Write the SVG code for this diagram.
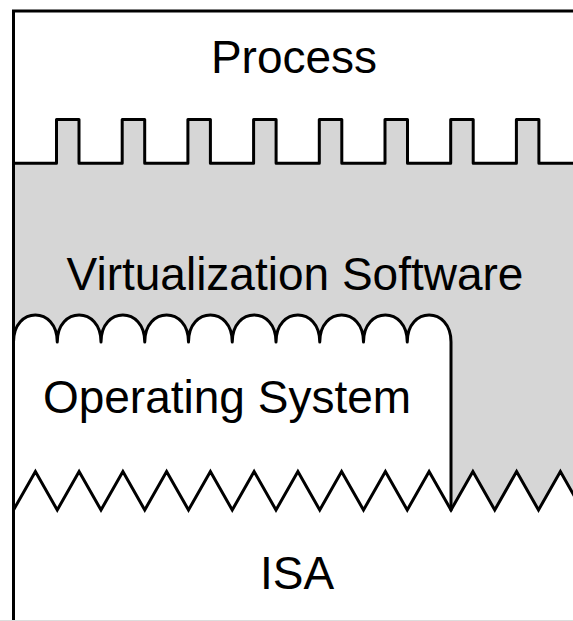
<svg xmlns="http://www.w3.org/2000/svg" width="573" height="621" viewBox="0 0 573 621">
  <style>
    .lbl { font-family: "Liberation Sans", Arial, Helvetica, sans-serif; font-size: 46px; fill: #000; text-anchor: middle; }
    .edge { fill: none; stroke: #000; stroke-width: 3; }
    .gray { fill: #d6d6d6; }
    .white { fill: #fff; }
  </style>
  <rect x="0" y="0" width="573" height="621" fill="#fff"/>

  <g id="virtualization-software">
    <path class="gray" d="M13.5,163.3 H56.5 V119.5 H79 V163.3 H122.2 V119.5 H144.7 V163.3 H187.9 V119.5 H210.4 V163.3 H253.6 V119.5 H276.1 V163.3 H319.3 V119.5 H341.8 V163.3 H385 V119.5 H407.5 V163.3 H450.7 V119.5 H473.2 V163.3 H516.4 V119.5 H538.9 V163.3 H580 V540 H13.5 Z"/>
    <text class="lbl" x="295" y="290">Virtualization Software</text>
  </g>

  <g id="isa">
    <path class="white" d="M13.5,510 L35.4,471.5 L57.25,510 L79.1,471.5 L101,510 L122.9,471.5 L144.75,510 L166.6,471.5 L188.5,510 L210.4,471.5 L232.25,510 L254.1,471.5 L276,510 L297.9,471.5 L319.75,510 L341.6,471.5 L363.5,510 L385.4,471.5 L407.25,510 L429.1,471.5 L451,510 L472.9,471.5 L494.75,510 L516.6,471.5 L538.5,510 L560.4,471.5 L582.25,510 V625 H13.5 Z"/>
    <text class="lbl" x="297" y="589">ISA</text>
  </g>

  <g id="operating-system">
    <path class="white" d="M13.5,342 C13.5,306 57.25,306 57.25,342 C57.25,306 101,306 101,342 C101,306 144.75,306 144.75,342 C144.75,306 188.5,306 188.5,342 C188.5,306 232.25,306 232.25,342 C232.25,306 276,306 276,342 C276,306 319.75,306 319.75,342 C319.75,306 363.5,306 363.5,342 C363.5,306 407.25,306 407.25,342 C407.25,306 451,306 451,342 V510 L429.1,471.5 L407.25,510 L385.4,471.5 L363.5,510 L341.6,471.5 L319.75,510 L297.9,471.5 L276,510 L254.1,471.5 L232.25,510 L210.4,471.5 L188.5,510 L166.6,471.5 L144.75,510 L122.9,471.5 L101,510 L79.1,471.5 L57.25,510 L35.4,471.5 L13.5,510 Z"/>
    <text class="lbl" x="227" y="413">Operating System</text>
  </g>

  <g id="process">
    <text class="lbl" x="294" y="73">Process</text>
  </g>

  <g id="boundaries">
    <path class="edge" d="M13.5,163.3 H56.5 V119.5 H79 V163.3 H122.2 V119.5 H144.7 V163.3 H187.9 V119.5 H210.4 V163.3 H253.6 V119.5 H276.1 V163.3 H319.3 V119.5 H341.8 V163.3 H385 V119.5 H407.5 V163.3 H450.7 V119.5 H473.2 V163.3 H516.4 V119.5 H538.9 V163.3 H580" stroke-linejoin="round"/>
    <path class="edge" stroke-linejoin="round" stroke-linecap="round" d="M13.5,342 C13.5,306 57.25,306 57.25,342 C57.25,306 101,306 101,342 C101,306 144.75,306 144.75,342 C144.75,306 188.5,306 188.5,342 C188.5,306 232.25,306 232.25,342 C232.25,306 276,306 276,342 C276,306 319.75,306 319.75,342 C319.75,306 363.5,306 363.5,342 C363.5,306 407.25,306 407.25,342 C407.25,306 451,306 451,342 V510"/>
    <path class="edge" d="M13.5,510 L35.4,471.5 L57.25,510 L79.1,471.5 L101,510 L122.9,471.5 L144.75,510 L166.6,471.5 L188.5,510 L210.4,471.5 L232.25,510 L254.1,471.5 L276,510 L297.9,471.5 L319.75,510 L341.6,471.5 L363.5,510 L385.4,471.5 L407.25,510 L429.1,471.5 L451,510 L472.9,471.5 L494.75,510 L516.6,471.5 L538.5,510 L560.4,471.5 L582.25,510"/>
    <path class="edge" d="M13.5,625 V11 H580"/>
    <line x1="0" y1="620.5" x2="573" y2="620.5" stroke="#dcdcdc" stroke-width="1"/>
  </g>
</svg>
